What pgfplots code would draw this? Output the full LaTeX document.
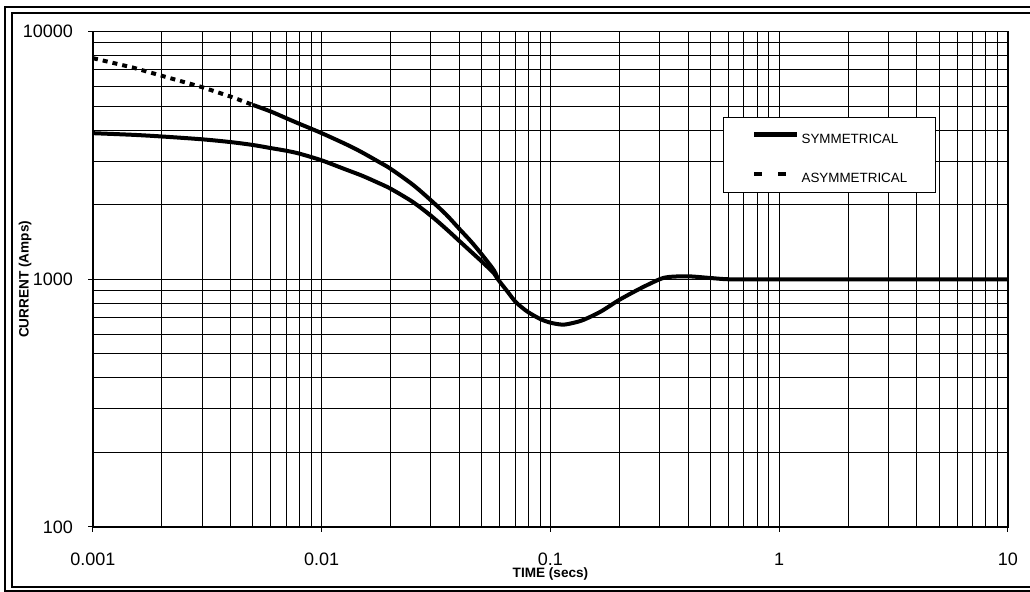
\documentclass[border=0pt]{standalone}
\usepackage{fontspec}
\setmainfont{Liberation Sans}
\usepackage{pgfplots}
\pgfplotsset{compat=1.18}
\usepackage{pgfplotstable}

% symmetrical current
\pgfplotstableread{
t      i
0.001  3890
0.0015 3830
0.002  3772
0.003  3674
0.004  3580
0.005  3485
0.006  3385
0.007  3303
0.008  3214
0.01   3020
0.0125 2793
0.015  2620
0.0175 2460
0.02   2321
0.025  2052
0.03   1806
0.035  1597
0.04   1426
0.045  1291
0.05   1181
0.0566 1058
0.0589 1000
0.065  890
0.07   815
0.075  770
0.08   736
0.09   692
0.1    668
0.113  656
0.125  666
0.1395 686
0.166  741
0.2    826
0.248  920
0.3    1000
0.33   1022
0.4    1028
0.5    1012
0.6    1000
0.8    1000
1      1000
10     1000
}\symtab

% asymmetrical current, dashed part
\pgfplotstableread{
t      i
0.001  7810
0.0015 7150
0.002  6630
0.003  5965
0.004  5463
0.005  5058
}\asymA

% asymmetrical current, dense part (looks solid)
\pgfplotstableread{
t      i
0.005  5058
0.006  4753
0.007  4470
0.008  4240
0.01   3890
0.0129 3493
0.015  3254
0.018  2958
0.02   2793
0.025  2410
0.03   2084
0.035  1825
0.04   1596
0.045  1419
0.05   1262
0.0566 1087
0.0589 1000
}\asymB

\begin{document}
\begin{tikzpicture}
\useasboundingbox (0,0) rectangle (515pt,296pt);
% double frame round the chart
\draw[line width=1pt] (2.5pt,0.5pt) rectangle (524pt,292.5pt);
\draw[line width=1pt] (6pt,2.5pt) rectangle (520pt,289.5pt);

\begin{axis}[
    at={(46.5pt,32.5pt)}, anchor=south west,
    scale only axis, width=457.5pt, height=247.7pt,
    xmode=log, ymode=log,
    xmin=0.001, xmax=10, ymin=100, ymax=10000,
    xtick={0.001,0.01,0.1,1,10},
    xticklabels={0.001,0.01,0.1,1,10},
    ytick={100,1000,10000},
    yticklabels={100,1000,10000},
    minor xtick={0.002,0.003,0.004,0.005,0.006,0.007,0.008,0.009,
                 0.02,0.03,0.04,0.05,0.06,0.07,0.08,0.09,
                 0.2,0.3,0.4,0.5,0.6,0.7,0.8,0.9,
                 2,3,4,5,6,7,8,9},
    minor ytick={200,300,400,500,600,700,800,900,
                 2000,3000,4000,5000,6000,7000,8000,9000},
    grid=both,
    major grid style={black, line width=0.5pt},
    minor grid style={black, line width=0.5pt},
    axis line style={black, line width=0.8pt},
    tick align=outside,
    xtick pos=bottom, ytick pos=left,
    major tick length=2.5pt, minor tick length=0pt,
    tick style={black, line width=0.5pt},
    xticklabel style={font=\fontsize{9}{10}\selectfont, yshift=-7pt},
    yticklabel style={font=\fontsize{9}{10}\selectfont, xshift=-4pt},
    xlabel={TIME (secs)},
    ylabel={CURRENT (Amps)},
    xlabel style={at={(axis description cs:0.5,-0.095)}, anchor=center,
                  font=\bfseries\fontsize{6.8}{8}\selectfont},
    ylabel style={at={(axis description cs:-0.0743,0.5)}, anchor=center,
                  font=\bfseries\fontsize{6.8}{8}\selectfont},
    legend cell align=left,
    legend style={at={(0.6885,0.828)}, anchor=north west,
                  draw=black, line width=0.6pt, fill=white,
                  font=\fontsize{6.7}{8}\selectfont,
                  inner xsep=14pt, inner ysep=5pt, row sep=11.5pt,
                  nodes={inner sep=0pt, text height=5pt, text depth=0pt}},
    /tikz/every odd column/.append style={column sep=1pt},
]
\addplot[black, line width=2pt, smooth,
    legend image code/.code={%
        \draw[line width=2.5pt] (0pt,1.9pt) -- (21.5pt,1.9pt);
        \path[draw=none] (0pt,5.5pt) -- (0.1pt,5.5pt);}]
    table[x=t, y=i] {\symtab};
\addlegendentry{SYMMETRICAL}
\addplot[black, line width=2pt, dash pattern=on 2.5pt off 2.5pt,
    legend image code/.code={%
        \draw[line width=2pt, dash pattern=on 4pt off 8pt] (0pt,1.9pt) -- (21.5pt,1.9pt);
        \path[draw=none] (0pt,5.5pt) -- (0.1pt,5.5pt);}]
    table[x=t, y=i] {\asymA};
\addlegendentry{ASYMMETRICAL}
\addplot[black, line width=2pt, smooth, forget plot]
    table[x=t, y=i] {\asymB};
\end{axis}
\end{tikzpicture}
\end{document}
